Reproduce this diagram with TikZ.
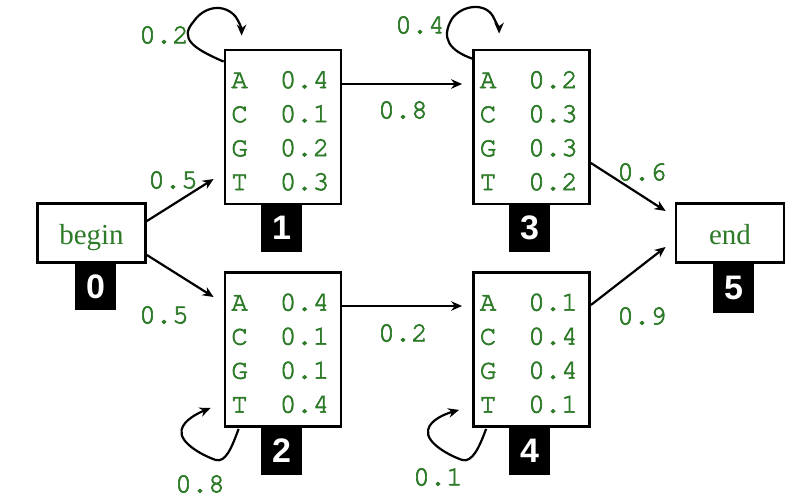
\documentclass[tikz,border=0pt]{standalone}
\usepackage{fontspec}
\setmainfont{Liberation Serif}
\newfontfamily\lblfont{Liberation Sans}
\newfontfamily\cursorfont{TeX Gyre Cursor}[FakeBold=2.5]
\usetikzlibrary{arrows.meta,calc}
\definecolor{hmmgreen}{RGB}{45,122,40}
\newcommand\hmmstate[7]{%
  \node[statebox] (#1) at (#2,#3) {};
  \node[emit] (#1a) at ($(#1.north west)+(7.5,39.5)$) {A};
  \node[emit] (#1c) at ($(#1.north west)+(7.5,73.5)$) {C};
  \node[emit] (#1g) at ($(#1.north west)+(7.5,107.5)$) {G};
  \node[emit] (#1t) at ($(#1.north west)+(7.5,141.5)$) {T};
  \node[emit] (#1va) at ($(#1.north west)+(56,39.5)$) {#4};
  \node[emit] (#1vc) at ($(#1.north west)+(56,73.5)$) {#5};
  \node[emit] (#1vg) at ($(#1.north west)+(56,107.5)$) {#6};
  \node[emit] (#1vt) at ($(#1.north west)+(56,141.5)$) {#7};
}
\newcommand\monotext{\cursorfont\fontsize{27.5}{28}\selectfont}
\begin{document}
\begin{tikzpicture}[x=1pt,y=-1pt,
  statebox/.style={draw, line width=2.8pt, fill=white, minimum width=116pt, minimum height=154pt, inner sep=0pt},
  endbox/.style={draw, line width=2.8pt, fill=white, minimum width=108pt, minimum height=59pt, inner sep=0pt, text height=24pt, text depth=2pt, text=hmmgreen, font=\fontsize{29}{30}\selectfont},
  tag/.style={fill=black, minimum width=41pt, inner sep=0pt, text=white, font=\lblfont\bfseries\fontsize{34}{34}\selectfont},
  emit/.style={anchor=base west, inner sep=0pt, text=hmmgreen, font=\monotext},
  prob/.style={inner sep=0pt, text=hmmgreen, font=\monotext},
  arr/.style={line width=2.2pt, -{Stealth[length=11pt,width=9.5pt]}}]
\useasboundingbox[fill=white] (0,0) rectangle (812,498);

% tags
\node[tag, minimum height=47pt] (l0) at (95.5,286.5) {0};
\node[tag, minimum height=48pt] (l1) at (281.5,228) {1};
\node[tag, minimum height=48pt] (l2) at (281.5,451) {2};
\node[tag, minimum height=48pt] (l3) at (529.5,228) {3};
\node[tag, minimum height=48pt] (l4) at (529.5,451) {4};
\node[tag, minimum height=50pt] (l5) at (733.5,288) {5};

% begin / end
\node[endbox] (s0) at (91.5,233) {begin};
\node[endbox] (s5) at (730,233) {end};

% states
\hmmstate{s1}{283}{127}{0.4}{0.1}{0.2}{0.3}
\hmmstate{s2}{283}{349.5}{0.4}{0.1}{0.1}{0.4}
\hmmstate{s3}{531.5}{127}{0.2}{0.3}{0.3}{0.2}
\hmmstate{s4}{531.5}{349.5}{0.1}{0.4}{0.4}{0.1}

% transitions
\draw[arr] ($(s0.east)+(0,-12)$) -- ($(s1.west)+(-10,52)$);
\draw[arr] ($(s0.east)+(0,22)$) -- ($(s2.west)+(-10,-52.5)$);
\draw[arr] ($(s1.east)+(0,-43)$) -- ($(s3.west)+(-10,-43)$);
\draw[arr] ($(s2.east)+(0,-43.5)$) -- ($(s4.west)+(-10,-43.5)$);
\draw[arr] ($(s3.east)+(0,36)$) -- ($(s5.west)+(-9,-22)$);
\draw[arr] ($(s4.east)+(0,-44.5)$) -- ($(s5.west)+(-9,14)$);

% self loops
\draw[arr, shift={(s1.north west)}] (0,13) .. controls (-30,0) and (-45,-10) .. (-30,-27)
  .. controls (-20,-42) and (0,-46) .. (12,-32) .. controls (16,-26) and (18,-20) .. (18,-13);
\draw[arr, shift={(s3.north west)}] (0,10) .. controls (-22,2) and (-32,-10) .. (-20,-30)
  .. controls (-10,-44) and (15,-47) .. (22,-30) .. controls (25,-24) and (27,-20) .. (27,-15);
\draw[arr, shift={(s2.south west)}] (15,1) .. controls (8,20) and (2,35) .. (-8,32)
  .. controls (-20,28) and (-45,15) .. (-42,2) .. controls (-40,-8) and (-25,-15) .. (-13,-20);
\draw[arr, shift={(s4.south west)}] (14,1) .. controls (7,20) and (0,35) .. (-10,32)
  .. controls (-22,28) and (-47,15) .. (-44,2) .. controls (-42,-8) and (-27,-14) .. (-13,-18);

% probabilities
\node[prob] (p11) at (164,35) {0.2};
\node[prob] (p33) at (420,25) {0.4};
\node[prob] (p01) at (173,180) {0.5};
\node[prob] (p02) at (164,315) {0.5};
\node[prob] (p13) at (403,110) {0.8};
\node[prob] (p24) at (403,333) {0.2};
\node[prob] (p35) at (642,172) {0.6};
\node[prob] (p45) at (642,316) {0.9};
\node[prob] (p22) at (200,484) {0.8};
\node[prob] (p44) at (438,477) {0.1};
\end{tikzpicture}
\end{document}
